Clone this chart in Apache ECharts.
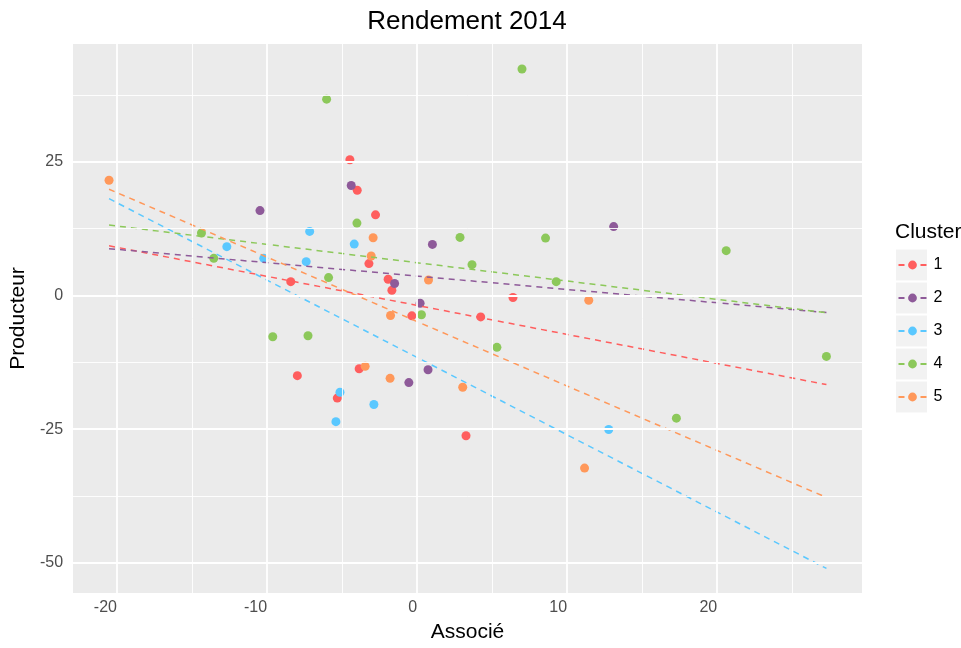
<!DOCTYPE html>
<html><head><meta charset="utf-8">
<script src="https://cdn.jsdelivr.net/npm/echarts@6/dist/echarts.min.js"></script>
<style>html,body{margin:0;padding:0;background:#fff}#chart{width:961px;height:648px}</style>
</head><body><div id="chart"></div>
<script>
// ---- data ----
const clusters = ['1', '2', '3', '4', '5'];
const colors = ['#FF5E5E', '#8E5A99', '#5AC8FF', '#8CC85A', '#FF985A'];

const c1x = [-4.48, -3.99, -2.77, -3.21, -1.93, -1.68, -0.35, 4.24, 6.39, -8.42, -7.98, -5.32, -3.86, 3.26];
const c1y = [25.4, 19.7, 15.1, 5.97, 3.04, 0.99, -3.8, -4.0, -0.37, 2.6, -15.0, -19.2, -13.7, -26.25];

const c2x = [-10.47, -4.39, 1.02, -1.5, 0.2, -0.55, 0.73, 13.1];
const c2y = [15.9, 20.6, 9.57, 2.24, -1.44, -16.3, -13.9, 12.9];

const c3x = [-12.68, -10.22, -7.16, -7.39, -4.19, -5.14, -5.41, -2.88, 12.77];
const c3y = [9.14, 6.96, 12.0, 6.34, 9.63, -18.1, -23.6, -20.4, -25.07];

const c4x = [-6.03, 6.99, -4.01, 2.86, 8.56, 3.66, 9.27, 0.29, -14.37, -13.55, -5.9, -9.62, -7.27, 5.32, 20.6, 17.28, 27.28];
const c4y = [36.75, 42.4, 13.55, 10.88, 10.75, 5.78, 2.6, -3.6, 11.7, 6.96, 3.36, -7.72, -7.53, -9.7, 8.4, -22.95, -11.4];

const c5x = [-20.53, -2.93, -3.06, 0.76, 11.44, -1.77, -3.46, -1.8, 3.04, 11.16];
const c5y = [21.57, 10.82, 7.4, 2.9, -0.88, -3.73, -13.25, -15.5, -17.16, -32.3];

const xTicks = [-20, -10, 0, 10, 20];
const xMinor = [-15, -5, 5, 15, 25];
const yTicks = [-50, -25, 0, 25];
const yMinor = [-37.5, -12.5, 12.5, 37.5];

// ---- build ----
const xs = [c1x, c2x, c3x, c4x, c5x];
const ys = [c1y, c2y, c3y, c4y, c5y];
const allX = [].concat(...xs);
const xLo = Math.min(...allX), xHi = Math.max(...allX);

function fit(x, y) {
  const n = x.length;
  const mx = x.reduce((a, b) => a + b, 0) / n;
  const my = y.reduce((a, b) => a + b, 0) / n;
  let sxy = 0, sxx = 0;
  for (let i = 0; i < n; i++) { sxy += (x[i] - mx) * (y[i] - my); sxx += (x[i] - mx) ** 2; }
  const b = sxy / sxx, a = my - b * mx;
  return [[xLo, a + b * xLo], [xHi, a + b * xHi]];
}

const FONT = '"Liberation Sans", Arial, sans-serif';
const series = [];

// grid lines (panel decoration)
const gridLines = [];
xTicks.forEach(v => gridLines.push({ xAxis: v, lineStyle: { width: 1.8 } }));
xMinor.forEach(v => gridLines.push({ xAxis: v, lineStyle: { width: 0.9 } }));
yTicks.forEach(v => gridLines.push({ yAxis: v, lineStyle: { width: 1.8 } }));
yMinor.forEach(v => gridLines.push({ yAxis: v, lineStyle: { width: 0.9 } }));
series.push({
  type: 'scatter', data: [], silent: true, z: 1,
  markLine: {
    silent: true, symbol: 'none', animation: false,
    label: { show: false },
    lineStyle: { color: '#FFFFFF', type: 'solid' },
    emphasis: { disabled: true },
    data: gridLines
  }
});

clusters.forEach((c, i) => {
  series.push({
    name: c, type: 'line', data: fit(xs[i], ys[i]),
    symbol: 'circle', showSymbol: false, silent: true, z: 4,
    lineStyle: { color: colors[i], width: 1.5, type: [6, 5] },
    itemStyle: { color: colors[i] }
  });
});
clusters.forEach((c, i) => {
  series.push({
    name: c, type: 'scatter', z: 3,
    data: xs[i].map((v, k) => [v, ys[i][k]]),
    symbolSize: 9,
    itemStyle: { color: colors[i], opacity: 1 }
  });
});

const keyRects = clusters.map((c, i) => ({
  type: 'rect', left: 896, top: 249.5 + i * 33,
  shape: { width: 31, height: 31 }, style: { fill: '#F2F2F2' }, z: -1
}));

const chart = echarts.init(document.getElementById('chart'), null, { renderer: 'canvas' });
chart.setOption({
  animation: false,
  backgroundColor: '#FFFFFF',
  textStyle: { fontFamily: FONT },
  title: [
    { text: 'Rendement 2014', left: 467, top: 9, padding: 0, textAlign: 'center',
      textStyle: { fontSize: 26, fontWeight: 'normal', color: '#000', fontFamily: FONT } },
    { text: 'Cluster', left: 895, top: 222, padding: 0,
      textStyle: { fontSize: 21, fontWeight: 'normal', color: '#000', fontFamily: FONT } }
  ],
  grid: { left: 72, right: 99, top: 44, bottom: 53, show: true, backgroundColor: '#EBEBEB', borderWidth: 0, containLabel: false },
  xAxis: {
    type: 'value', min: -22.93, max: 29.65,
    name: 'Associé', nameLocation: 'middle', nameGap: 29,
    nameTextStyle: { fontSize: 21, color: '#000', fontFamily: FONT },
    axisLine: { show: false },
    axisTick: { show: true, length: 4.5, customValues: xTicks, lineStyle: { color: '#333333', width: 1.5 } },
    axisLabel: { customValues: xTicks, align: 'right', margin: 7, fontSize: 16, color: '#4D4D4D', fontFamily: FONT },
    splitLine: { show: false }
  },
  yAxis: {
    type: 'value', min: -55.67, max: 47.07,
    name: 'Producteur', nameLocation: 'middle', nameGap: 37, nameRotate: 90,
    nameTextStyle: { fontSize: 21, color: '#000', fontFamily: FONT },
    axisLine: { show: false },
    axisTick: { show: true, length: 4.5, customValues: yTicks, lineStyle: { color: '#333333', width: 1.5 } },
    axisLabel: { customValues: yTicks, margin: 10, fontSize: 16, color: '#4D4D4D', fontFamily: FONT },
    splitLine: { show: false }
  },
  legend: {
    orient: 'vertical', left: 897.5, top: 257, padding: 0,
    itemWidth: 28, itemHeight: 11, itemGap: 17,
    selectedMode: false, data: clusters,
    textStyle: { fontSize: 16, lineHeight: 16, color: '#000', fontFamily: FONT, padding: [0, 0, 0, 2] }
  },
  graphic: keyRects,
  series: series
});
</script>
</body></html>
